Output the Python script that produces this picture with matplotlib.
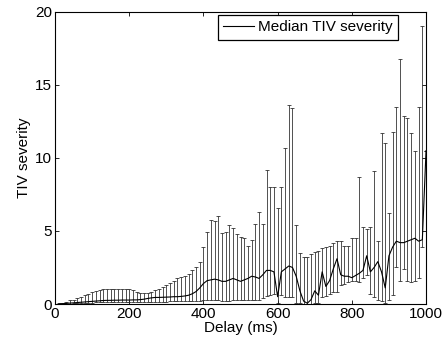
import numpy as np
import matplotlib
matplotlib.use('Agg')
import matplotlib.pyplot as plt

plt.rcParams['font.family'] = ['Liberation Sans', 'DejaVu Sans']

# delay (ms), one bin every 10 ms
delay = np.arange(10, 1001, 10)

# median TIV severity per bin
median = [
    0.0, 0.02, 0.04, 0.06, 0.08, 0.1, 0.12, 0.14, 0.16, 0.18,
    0.2, 0.22, 0.24, 0.25, 0.25, 0.26, 0.26, 0.27, 0.27, 0.27,
    0.28, 0.28, 0.3, 0.33, 0.38, 0.42, 0.45, 0.45, 0.46, 0.47,
    0.48, 0.5, 0.5, 0.52, 0.55, 0.6, 0.7, 0.85, 1.1, 1.4,
    1.6, 1.65, 1.7, 1.65, 1.55, 1.55, 1.65, 1.75, 1.65, 1.55,
    1.65, 1.75, 1.9, 1.85, 1.75, 2.0, 2.3, 2.3, 2.2, 0.5,
    2.2, 2.4, 2.6, 2.5, 1.9, 0.9, 0.2, 0.05, 0.3, 0.9,
    0.6, 2.2, 1.2, 1.6, 2.4, 3.1, 2.0, 1.9, 1.9, 1.8,
    1.95, 2.1, 2.3, 3.3, 2.2, 2.5, 2.9, 2.2, 1.1, 3.3,
    3.9, 4.3, 4.2, 4.2, 4.3, 4.4, 4.5, 4.3, 4.4, 10.5,
]

# lower end of the error bar
lower = [
    0.0, 0.0, 0.02, 0.03, 0.04, 0.05, 0.06, 0.07, 0.08, 0.1,
    0.12, 0.12, 0.12, 0.12, 0.12, 0.12, 0.12, 0.12, 0.12, 0.12,
    0.15, 0.15, 0.15, 0.15, 0.15, 0.15, 0.15, 0.15, 0.15, 0.15,
    0.2, 0.2, 0.2, 0.2, 0.2, 0.2, 0.2, 0.2, 0.2, 0.3,
    0.3, 0.3, 0.3, 0.25, 0.2, 0.2, 0.2, 0.25, 0.25, 0.25,
    0.25, 0.25, 0.3, 0.3, 0.3, 0.4, 0.55, 0.65, 0.7, 0.1,
    0.6, 0.5, 0.5, 0.5, 0.1, 0.05, 0.0, 0.0, 0.0, 0.05,
    0.1, 0.5, 0.55, 0.7, 0.8, 0.85, 1.3, 1.4, 1.5, 1.6,
    1.6, 1.5, 1.8, 2.0, 0.7, 0.5, 0.3, 0.2, 0.1, 0.3,
    0.6, 2.5, 1.6, 2.4, 1.6, 1.5, 1.6, 1.8, 3.9, 10.5,
]

# upper end of the error bar
upper = [
    0.05, 0.1, 0.15, 0.25, 0.3, 0.4, 0.5, 0.6, 0.7, 0.8,
    0.9, 0.95, 1.0, 1.0, 1.0, 1.0, 1.0, 1.0, 1.0, 1.0,
    0.95, 0.85, 0.78, 0.75, 0.75, 0.85, 0.95, 1.05, 1.15, 1.3,
    1.45, 1.6, 1.75, 1.85, 1.95, 2.05, 2.3, 2.55, 2.9, 3.9,
    4.95, 5.75, 5.7, 6.05, 4.85, 4.9, 5.4, 5.2, 4.8, 4.6,
    4.5, 4.0, 4.4, 5.5, 6.3, 5.5, 9.2, 8.0, 8.0, 6.6,
    8.0, 10.7, 13.6, 13.4, 5.4, 3.5, 3.25, 3.2, 3.4, 3.55,
    3.65, 3.8, 3.9, 4.0, 4.15, 4.3, 4.3, 4.0, 4.0, 4.5,
    4.5, 8.7, 5.3, 5.1, 5.3, 9.1, 4.3, 11.7, 11.0, 6.2,
    11.8, 13.5, 16.8, 12.9, 12.7, 11.7, 10.5, 13.5, 19.0, 10.5,
]

median = np.array(median)
err_lo = median - np.array(lower)
err_hi = np.array(upper) - median

fig = plt.figure(figsize=(4.48, 3.43), dpi=100)
ax = fig.add_axes([0.1228, 0.1137, 0.8282, 0.852])

ax.errorbar(delay, median, yerr=[err_lo, err_hi], fmt='none', ecolor='#222222',
            elinewidth=0.55, capsize=1.6, capthick=0.55)
ax.plot(delay, median, color='black', linewidth=0.8, label='Median TIV severity')

ax.set_xlim(0, 1000)
ax.set_ylim(0, 20)
ax.set_xticks([0, 200, 400, 600, 800, 1000])
ax.set_yticks([0, 5, 10, 15, 20])
ax.tick_params(direction='in', top=True, right=True, labelsize=11, length=3, width=0.6, pad=2)
for s in ax.spines.values():
    s.set_linewidth(0.8)

ax.set_xlabel('Delay (ms)', fontsize=11, labelpad=0)
ax.set_ylabel('TIV severity', fontsize=11, labelpad=3)

leg = ax.legend(loc='upper right', bbox_to_anchor=(0.925, 0.989), fontsize=11,
                fancybox=False, framealpha=1, edgecolor='black',
                handlelength=2.0, handletextpad=0.3, borderpad=0.35,
                borderaxespad=0)
leg.get_frame().set_linewidth(0.9)

fig.savefig('out.png', dpi=100)
